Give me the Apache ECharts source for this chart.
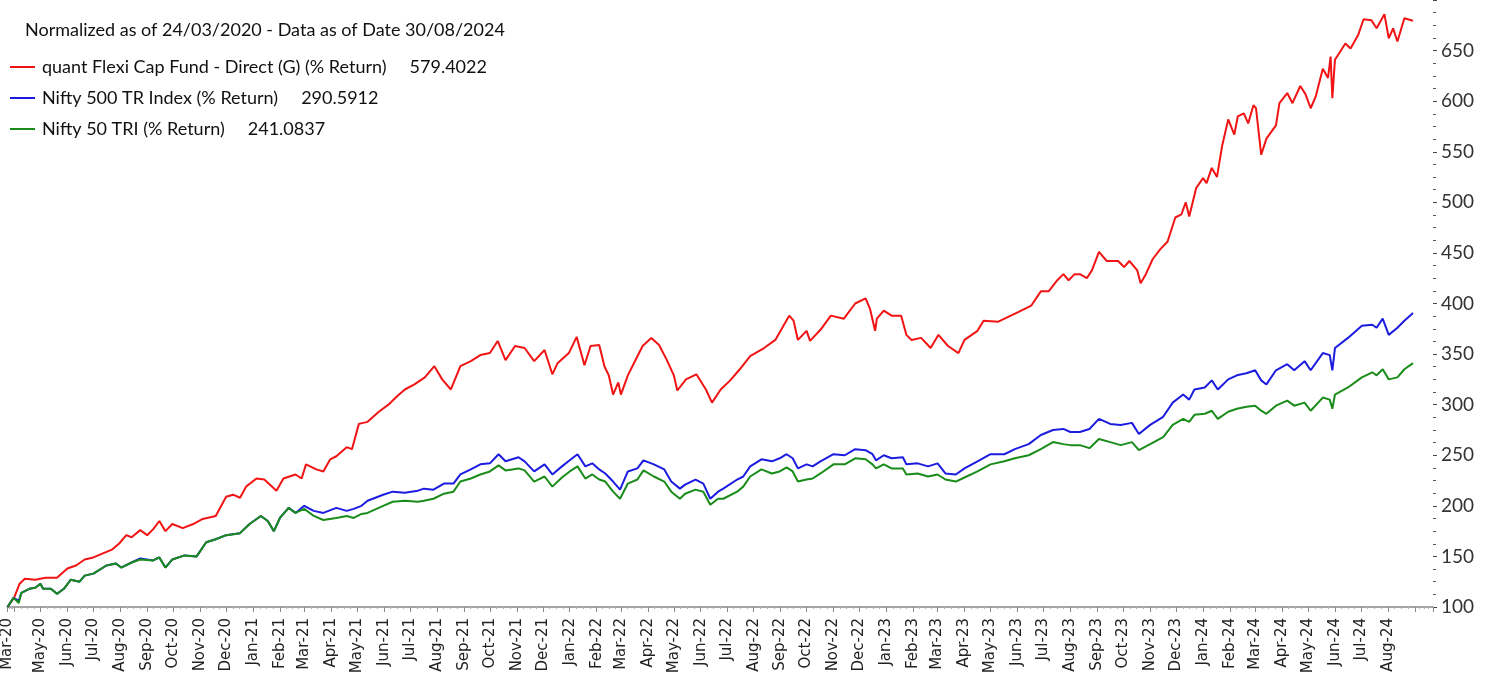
<!DOCTYPE html>
<html>
<head>
<meta charset="utf-8">
<script src="https://cdn.jsdelivr.net/npm/echarts@6/dist/echarts.min.js"></script>
<style>
  html, body { margin: 0; padding: 0; background: #fff; }
  #chart { width: 1494px; height: 679px; }
</style>
</head>
<body>
<div id="chart"></div>
<script>
const titleText = 'Normalized as of 24/03/2020 - Data as of Date 30/08/2024'
const seriesNames = [
  'quant Flexi Cap Fund - Direct (G) (% Return)',
  'Nifty 500 TR Index (% Return)',
  'Nifty 50 TRI (% Return)',
]
const legendValues = ['579.4022', '290.5912', '241.0837']
const yTicks = [100, 150, 200, 250, 300, 350, 400, 450, 500, 550, 600, 650]

// fund line
const fundDates = [
  '2020-03-24', '2020-04-01', '2020-04-07', '2020-04-13', '2020-04-25', '2020-05-07', '2020-05-20',
  '2020-06-01', '2020-06-11', '2020-06-21', '2020-07-01', '2020-07-12', '2020-07-23', '2020-07-31',
  '2020-08-08', '2020-08-14', '2020-08-24', '2020-09-01', '2020-09-08', '2020-09-15', '2020-09-22',
  '2020-09-30', '2020-10-12', '2020-10-24', '2020-11-04', '2020-11-19', '2020-12-01', '2020-12-09',
  '2020-12-17', '2020-12-24', '2021-01-05', '2021-01-14', '2021-01-28', '2021-02-05', '2021-02-19',
  '2021-02-26', '2021-03-03', '2021-03-15', '2021-03-23', '2021-03-31', '2021-04-07', '2021-04-19',
  '2021-04-25', '2021-05-03', '2021-05-13', '2021-05-26', '2021-06-06', '2021-06-17', '2021-06-25',
  '2021-07-06', '2021-07-18', '2021-07-29', '2021-08-07', '2021-08-17', '2021-08-28', '2021-09-09',
  '2021-09-20', '2021-10-01', '2021-10-10', '2021-10-19', '2021-10-30', '2021-11-10', '2021-11-21',
  '2021-12-03', '2021-12-12', '2021-12-18', '2021-12-31', '2022-01-09', '2022-01-18', '2022-01-25',
  '2022-02-04', '2022-02-10', '2022-02-15', '2022-02-20', '2022-02-26', '2022-03-01', '2022-03-09',
  '2022-03-16', '2022-03-26', '2022-04-05', '2022-04-14', '2022-04-23', '2022-05-01', '2022-05-05',
  '2022-05-15', '2022-05-27', '2022-06-07', '2022-06-14', '2022-06-24', '2022-07-05', '2022-07-16',
  '2022-07-28', '2022-08-13', '2022-08-26', '2022-09-05', '2022-09-11', '2022-09-16', '2022-09-21',
  '2022-10-01', '2022-10-05', '2022-10-17', '2022-10-29', '2022-11-13', '2022-11-26', '2022-12-08',
  '2022-12-13', '2022-12-19', '2022-12-21', '2022-12-29', '2023-01-07', '2023-01-18', '2023-01-24',
  '2023-01-30', '2023-02-10', '2023-02-21', '2023-03-02', '2023-03-13', '2023-03-25', '2023-04-01',
  '2023-04-16', '2023-04-23', '2023-05-10', '2023-05-22', '2023-06-03', '2023-06-17', '2023-06-28',
  '2023-07-07', '2023-07-17', '2023-07-24', '2023-07-30', '2023-08-06', '2023-08-12', '2023-08-20',
  '2023-08-26', '2023-09-03', '2023-09-12', '2023-09-25', '2023-10-02', '2023-10-08', '2023-10-17',
  '2023-10-21', '2023-10-27', '2023-11-04', '2023-11-13', '2023-11-21', '2023-11-30', '2023-12-07',
  '2023-12-12', '2023-12-16', '2023-12-24', '2024-01-01', '2024-01-05', '2024-01-11', '2024-01-17',
  '2024-01-23', '2024-01-30', '2024-02-06', '2024-02-10', '2024-02-17', '2024-02-22', '2024-02-28',
  '2024-03-02', '2024-03-08', '2024-03-14', '2024-03-25', '2024-03-29', '2024-04-07', '2024-04-13',
  '2024-04-22', '2024-04-28', '2024-05-04', '2024-05-10', '2024-05-18', '2024-05-24', '2024-05-27',
  '2024-05-29', '2024-06-01', '2024-06-13', '2024-06-19', '2024-06-28', '2024-07-04', '2024-07-13',
  '2024-07-19', '2024-07-28', '2024-08-02', '2024-08-07', '2024-08-12', '2024-08-20', '2024-08-28',
  '2024-08-30',
]
const fundValues = [
  100, 110, 123, 128, 127, 129, 129,
  138, 141, 147, 149, 153, 157, 163,
  171, 169, 176, 171, 177, 185, 175,
  182, 178, 182, 187, 190, 209, 211,
  208, 219, 227, 226, 215, 227, 231,
  227, 241, 236, 234, 246, 249, 258,
  256, 281, 283, 293, 300, 309, 315,
  320, 327, 338, 325, 315, 338, 343,
  349, 351, 363, 344, 358, 356, 343,
  354, 330, 341, 351, 367, 339, 358,
  359, 338, 329, 310, 322, 310, 329,
  341, 358, 366, 359, 344, 329, 314,
  325, 330, 315, 302, 315, 324, 335,
  348, 356, 364, 379, 388, 383, 364,
  373, 363, 374, 388, 385, 400, 405,
  395, 373, 385, 393, 388, 388, 369,
  364, 366, 356, 369, 358, 351, 364,
  373, 383, 382, 387, 392, 398, 412,
  412, 423, 429, 423, 429, 429, 425,
  433, 451, 442, 442, 436, 442, 433,
  420, 429, 444, 454, 461, 485, 488,
  500, 486, 514, 524, 519, 534, 525,
  556, 582, 567, 585, 588, 578, 596,
  593, 547, 563, 576, 598, 608, 598,
  615, 607, 593, 605, 632, 623, 644,
  603, 641, 657, 652, 666, 681, 680,
  672, 686, 662, 672, 659, 682, 680,
  679.4,
]

// the two index lines share their dates
const indexDates = [
  '2020-03-24', '2020-03-31', '2020-04-06', '2020-04-09', '2020-04-18', '2020-04-25', '2020-05-01',
  '2020-05-04', '2020-05-13', '2020-05-20', '2020-05-28', '2020-06-05', '2020-06-15', '2020-06-21',
  '2020-07-01', '2020-07-16', '2020-07-27', '2020-08-02', '2020-08-14', '2020-08-24', '2020-09-08',
  '2020-09-15', '2020-09-22', '2020-09-30', '2020-10-14', '2020-10-28', '2020-11-08', '2020-11-19',
  '2020-12-01', '2020-12-17', '2020-12-28', '2021-01-10', '2021-01-18', '2021-01-25', '2021-02-01',
  '2021-02-11', '2021-02-19', '2021-03-01', '2021-03-12', '2021-03-23', '2021-04-07', '2021-04-19',
  '2021-04-27', '2021-05-06', '2021-05-13', '2021-05-31', '2021-06-11', '2021-06-25', '2021-07-10',
  '2021-07-17', '2021-07-28', '2021-08-09', '2021-08-20', '2021-08-28', '2021-09-09', '2021-09-20',
  '2021-10-01', '2021-10-11', '2021-10-19', '2021-11-03', '2021-11-10', '2021-11-21', '2021-12-03',
  '2021-12-12', '2021-12-23', '2022-01-01', '2022-01-10', '2022-01-19', '2022-01-27', '2022-02-04',
  '2022-02-11', '2022-02-20', '2022-02-28', '2022-03-09', '2022-03-20', '2022-03-27', '2022-04-08',
  '2022-04-20', '2022-04-28', '2022-05-08', '2022-05-14', '2022-05-26', '2022-06-04', '2022-06-12',
  '2022-06-21', '2022-06-27', '2022-07-13', '2022-07-20', '2022-07-28', '2022-08-10', '2022-08-22',
  '2022-08-31', '2022-09-08', '2022-09-15', '2022-09-21', '2022-10-01', '2022-10-08', '2022-10-17',
  '2022-11-01', '2022-11-14', '2022-11-26', '2022-12-08', '2022-12-16', '2022-12-20', '2022-12-29',
  '2023-01-07', '2023-01-20', '2023-01-24', '2023-02-06', '2023-02-18', '2023-03-01', '2023-03-10',
  '2023-03-22', '2023-04-01', '2023-04-16', '2023-05-01', '2023-05-17', '2023-05-29', '2023-06-14',
  '2023-06-28', '2023-07-12', '2023-07-24', '2023-08-01', '2023-08-12', '2023-08-23', '2023-09-03',
  '2023-09-16', '2023-09-28', '2023-10-11', '2023-10-19', '2023-11-01', '2023-11-16', '2023-11-27',
  '2023-12-09', '2023-12-16', '2023-12-22', '2024-01-03', '2024-01-11', '2024-01-18', '2024-01-30',
  '2024-02-09', '2024-02-20', '2024-03-01', '2024-03-08', '2024-03-14', '2024-03-25', '2024-04-07',
  '2024-04-15', '2024-04-27', '2024-05-04', '2024-05-18', '2024-05-26', '2024-05-29', '2024-06-01',
  '2024-06-16', '2024-07-02', '2024-07-14', '2024-07-19', '2024-07-26', '2024-08-02', '2024-08-12',
  '2024-08-20', '2024-08-30',
]
const nifty500Values = [
  100, 109, 106, 114, 118, 119, 123,
  118, 118, 113, 118, 127, 125, 131,
  133, 141, 143, 139, 144, 148, 146,
  149, 139, 147, 151, 150, 164, 167,
  171, 173, 182, 190, 185, 175, 188,
  198, 193, 200, 195, 193, 198, 195,
  197, 200, 205, 211, 214, 213, 215,
  217, 216, 222, 222, 231, 236, 241,
  242, 251, 244, 248, 244, 234, 241,
  231, 239, 245, 251, 239, 242, 236,
  232, 224, 216, 234, 237, 245, 241,
  236, 224, 217, 221, 226, 222, 207,
  214, 217, 226, 229, 239, 246, 244,
  247, 251, 247, 237, 241, 239, 244,
  251, 250, 256, 255, 251, 245, 250,
  247, 248, 241, 242, 239, 242, 232,
  231, 237, 244, 251, 251, 256, 261,
  270, 275, 276, 273, 273, 276, 286,
  281, 280, 282, 271, 280, 288, 302,
  310, 305, 315, 317, 324, 315, 325,
  329, 331, 334, 324, 320, 334, 340,
  334, 343, 334, 351, 349, 334, 356,
  366, 378, 379, 376, 385, 369, 376,
  383, 390.6,
]
const nifty50Values = [
  100, 109, 104, 114, 118, 119, 123,
  118, 118, 113, 118, 127, 125, 131,
  133, 141, 143, 139, 144, 147, 146,
  149, 139, 147, 151, 150, 164, 167,
  171, 173, 182, 190, 185, 175, 188,
  198, 193, 197, 190, 186, 188, 190,
  188, 192, 193, 200, 204, 205, 204,
  205, 207, 212, 214, 224, 227, 231,
  234, 240, 235, 237, 235, 224, 229,
  219, 228, 234, 239, 227, 231, 226,
  224, 214, 207, 222, 226, 235, 229,
  224, 214, 207, 212, 216, 214, 201,
  207, 207, 214, 219, 229, 236, 232,
  234, 238, 234, 224, 226, 227, 232,
  241, 241, 247, 246, 241, 237, 241,
  237, 237, 231, 232, 229, 231, 226,
  224, 228, 234, 241, 244, 247, 250,
  256, 263, 261, 260, 260, 257, 266,
  263, 260, 263, 255, 261, 268, 280,
  286, 283, 290, 291, 294, 286, 293,
  296, 298, 299, 294, 291, 299, 304,
  299, 302, 294, 307, 305, 296, 310,
  317, 327, 332, 329, 335, 325, 327,
  335, 341.1,
]

const colors = ['#f01414', '#1c1ce0', '#1a8c1a']
const monthNames = ['Jan', 'Feb', 'Mar', 'Apr', 'May', 'Jun', 'Jul', 'Aug', 'Sep', 'Oct', 'Nov', 'Dec']
const lastDate = new Date('2024-08-30').getTime()

const pairs = (dates, values) => dates.map((d, i) => [d, values[i]])

const chart = echarts.init(document.getElementById('chart'), null, { renderer: 'canvas' })

const legendText = {}
seriesNames.forEach((n, i) => { legendText[n] = n + '     ' + legendValues[i] })

const options = {
  backgroundColor: '#fff',
  animation: false,
  title: {
    text: titleText,
    left: 20,
    top: 16,
    textStyle: {
      fontFamily: 'Lato',
      fontSize: 18,
      fontWeight: 'normal',
      color: '#111',
    },
  },
  legend: {
    orient: 'vertical',
    left: 5,
    top: 52,
    itemGap: 11,
    itemWidth: 25,
    itemHeight: 2,
    icon: 'rect',
    data: seriesNames,
    formatter: (name) => legendText[name],
    textStyle: {
      fontFamily: 'Lato',
      fontSize: 18,
      lineHeight: 20,
      color: '#111',
      padding: [0, 0, 0, 2],
    },
  },
  grid: {
    left: 7,
    right: 61,
    top: -7,
    bottom: 72,
  },
  xAxis: {
    type: 'time',
    min: '2020-03-24',
    max: '2024-09-22',
    splitNumber: 60,
    minInterval: 28 * 86400000,
    maxInterval: 31 * 86400000,
    axisLine: { show: true, lineStyle: { color: '#a4a4a4', width: 2 } },
    axisTick: { show: true, length: 5, lineStyle: { color: '#8a8a8a' } },
    minorTick: { show: true, splitNumber: 4, length: 2, lineStyle: { color: '#b0b0b0' } },
    splitLine: { show: false },
    axisLabel: {
      rotate: 90,
      margin: 11,
      showMinLabel: true,
      showMaxLabel: true,
      hideOverlap: false,
      fontFamily: 'DejaVu Sans',
      fontSize: 15,
      color: '#222',
      formatter: (value) => {
        if (value > lastDate) return ''
        const d = new Date(value)
        return monthNames[d.getMonth()] + '-' + String(d.getFullYear()).slice(2)
      },
    },
  },
  yAxis: {
    type: 'value',
    position: 'right',
    min: 100,
    max: 700,
    interval: 50,
    axisLine: { show: false },
    axisTick: { show: true, length: 4, lineStyle: { color: '#444' } },
    minorTick: { show: true, splitNumber: 4, length: 3, lineStyle: { color: '#555' } },
    splitLine: { show: false },
    axisLabel: {
      margin: 8,
      showMaxLabel: false,
      fontFamily: 'Lato',
      fontSize: 19,
      color: '#333',
      formatter: (v) => (yTicks.includes(v) ? String(v) : ''),
    },
  },
  series: [
    { name: seriesNames[0], data: pairs(fundDates, fundValues), color: colors[0] },
    { name: seriesNames[1], data: pairs(indexDates, nifty500Values), color: colors[1] },
    { name: seriesNames[2], data: pairs(indexDates, nifty50Values), color: colors[2] },
  ].map((s) => ({
    ...s,
    type: 'line',
    symbol: 'none',
    smooth: false,
    lineStyle: { width: 2 },
    emphasis: { disabled: true },
  })),
}

chart.setOption(options)
</script>
</body>
</html>
